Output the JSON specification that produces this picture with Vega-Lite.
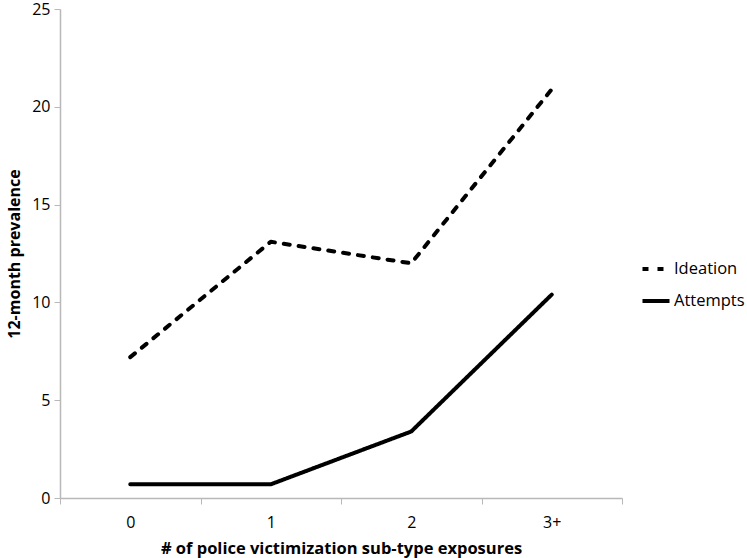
{
  "$schema": "https://vega.github.io/schema/vega-lite/v6.json",
  "autosize": "none",
  "width": 562,
  "height": 489,
  "padding": {"left": 60, "top": 9, "right": 125, "bottom": 60},
  "background": "white",
  "config": {
    "view": {"stroke": null},
    "font": "Open Sans"
  },
  "data": {
    "values": [
      {"exposures": "0", "series": "Ideation", "prevalence": 7.2},
      {"exposures": "1", "series": "Ideation", "prevalence": 13.1},
      {"exposures": "2", "series": "Ideation", "prevalence": 12.0},
      {"exposures": "3+", "series": "Ideation", "prevalence": 20.9},
      {"exposures": "0", "series": "Attempts", "prevalence": 0.7},
      {"exposures": "1", "series": "Attempts", "prevalence": 0.7},
      {"exposures": "2", "series": "Attempts", "prevalence": 3.4},
      {"exposures": "3+", "series": "Attempts", "prevalence": 10.4}
    ]
  },
  "mark": {"type": "line", "color": "black", "strokeWidth": 4, "strokeCap": "round", "strokeJoin": "round"},
  "encoding": {
    "x": {
      "field": "exposures",
      "type": "nominal",
      "sort": ["0", "1", "2", "3+"],
      "scale": {"type": "band", "paddingInner": 0, "paddingOuter": 0},
      "axis": {
        "title": "# of police victimization sub-type exposures",
        "titleFont": "Open Sans",
        "titleFontSize": 16.5,
        "titleFontWeight": "bold",
        "titleColor": "black",
        "titlePadding": 10,
        "labelAngle": 0,
        "labelFont": "Open Sans",
        "labelFontSize": 16,
        "labelColor": "black",
        "labelPadding": 10,
        "tickBand": "extent",
        "tickSize": 6,
        "tickColor": "#b8b8b8",
        "domainColor": "#b8b8b8",
        "domainWidth": 1.5,
        "grid": false
      }
    },
    "y": {
      "field": "prevalence",
      "type": "quantitative",
      "scale": {"domain": [0, 25], "nice": false},
      "axis": {
        "title": "12-month prevalence",
        "titleFont": "Open Sans",
        "titleFontSize": 16,
        "titleFontWeight": "bold",
        "titleColor": "black",
        "titlePadding": 9,
        "values": [0, 5, 10, 15, 20, 25],
        "labelFont": "Open Sans",
        "labelFontSize": 16,
        "labelColor": "black",
        "labelPadding": 4,
        "tickSize": 6,
        "tickColor": "#b8b8b8",
        "domainColor": "#b8b8b8",
        "domainWidth": 1.5,
        "grid": false
      }
    },
    "strokeDash": {
      "field": "series",
      "type": "nominal",
      "scale": {"domain": ["Ideation", "Attempts"], "range": [[6, 9], [1, 0]]},
      "legend": {
        "title": null,
        "orient": "none",
        "legendX": 580,
        "legendY": 244,
        "symbolType": "stroke",
        "symbolStrokeColor": "black",
        "symbolStrokeWidth": 4,
        "symbolSize": 730,
        "labelFont": "Open Sans",
        "labelFontSize": 16.5,
        "labelColor": "black",
        "labelOffset": 2,
        "rowPadding": 7
      }
    }
  }
}
